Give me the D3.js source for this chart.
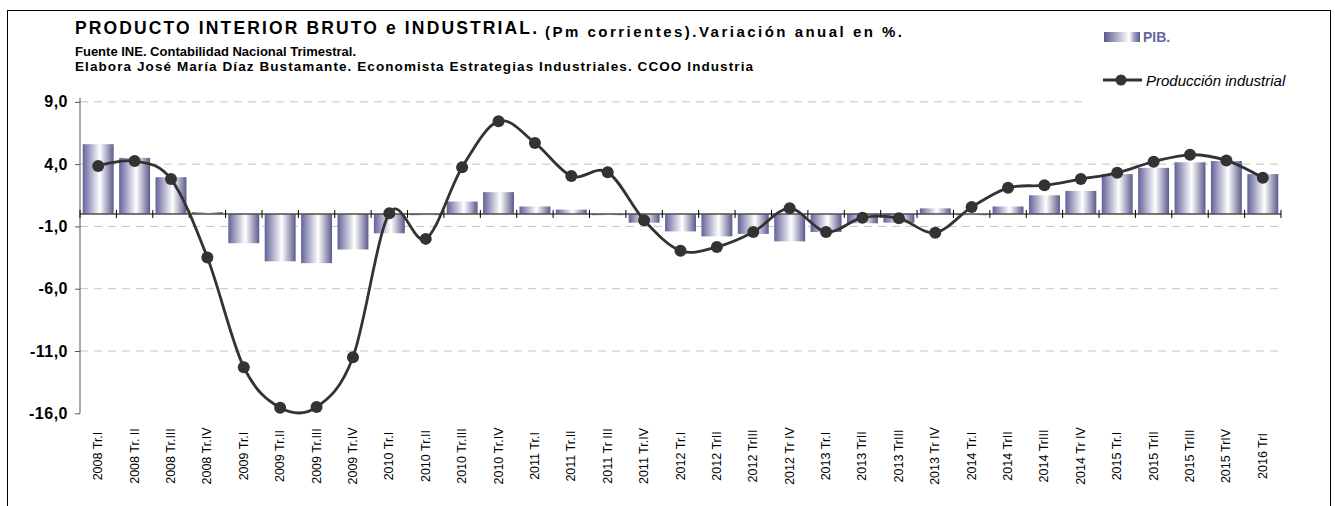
<!DOCTYPE html>
<html>
<head>
    <meta charset="utf-8">
    <title>PIB e Industria</title>
    <script src="https://d3js.org/d3.v7.min.js"></script>
    <style>
        body { margin: 0; background: #fff; }
        text { font-family: Arial, "Liberation Sans", sans-serif; }
    </style>
</head>
<body>
    <svg id="chart"></svg>

    <script>
        var categories = ["2008 Tr.I", "2008 Tr. II", "2008 Tr.III", "2008 Tr.IV",
            "2009 Tr.I", "2009 Tr.II", "2009 Tr.III", "2009 Tr.IV",
            "2010 Tr.I", "2010 Tr.II", "2010 Tr.III", "2010 Tr.IV",
            "2011 Tr.I", "2011 Tr.II", "2011 Tr III", "2011 Tr.IV",
            "2012 Tr.I", "2012 TrII", "2012 TrIII", "2012 Tr IV",
            "2013 Tr.I", "2013 TrII", "2013 TrIII", "2013 Tr IV",
            "2014 Tr.I", "2014 TrII", "2014 TrIII", "2014 Tr IV",
            "2015 Tr.I", "2015 TrII", "2015 TrIII", "2015 TrIV", "2016 TrI"];

        var pib = [5.6, 4.5, 2.95, 0.15, -2.35, -3.8, -3.95, -2.85,
            -1.55, -0.1, 1.0, 1.75, 0.6, 0.35, -0.1, -0.7,
            -1.4, -1.8, -1.6, -2.2, -1.45, -0.75, -0.7, 0.45,
            -0.1, 0.6, 1.5, 1.85, 3.2, 3.7, 4.15, 4.25, 3.2];

        var industria = [3.85, 4.25, 2.8, -3.5, -12.3, -15.55, -15.5, -11.5,
            0.05, -2.0, 3.75, 7.45, 5.7, 3.05, 3.35, -0.5,
            -2.95, -2.65, -1.45, 0.45, -1.45, -0.3, -0.35, -1.5,
            0.55, 2.1, 2.3, 2.8, 3.3, 4.2, 4.75, 4.3, 2.9];

        var yTicks = [9, 4, -1, -6, -11, -16];

        var width = 1335;
        var height = 506;

        var svg = d3.select("#chart")
            .attr("width", width)
            .attr("height", height);

        // gradiente de las barras
        var defs = svg.append("defs");
        var grad = defs.append("linearGradient")
            .attr("id", "barGrad")
            .attr("x1", "0").attr("x2", "1").attr("y1", "0").attr("y2", "0");
        grad.append("stop").attr("offset", "0").attr("stop-color", "#62629a");
        grad.append("stop").attr("offset", "0.55").attr("stop-color", "#ffffff");
        grad.append("stop").attr("offset", "1").attr("stop-color", "#5a5a8c");

        var gradLeg = defs.append("linearGradient")
            .attr("id", "legGrad")
            .attr("x1", "0").attr("x2", "1").attr("y1", "0").attr("y2", "0");
        gradLeg.append("stop").attr("offset", "0").attr("stop-color", "#5a5a8c");
        gradLeg.append("stop").attr("offset", "0.7").attr("stop-color", "#ffffff");
        gradLeg.append("stop").attr("offset", "0.85").attr("stop-color", "#9a9ac0");
        gradLeg.append("stop").attr("offset", "1").attr("stop-color", "#5a5a8c");

        // marco
        svg.append("rect")
            .attr("x", 7.5).attr("y", 10.5)
            .attr("width", 1323).attr("height", 520)
            .attr("fill", "none")
            .attr("stroke", "#000")
            .attr("stroke-width", 1);

        var x = d3.scaleBand()
            .domain(categories)
            .range([80, 1281])
            .paddingInner(0.15)
            .paddingOuter(0.075);

        var y = d3.scaleLinear()
            .domain([-16, 9.3])
            .range([413.3, 98.1]);

        // rejilla
        svg.append("g")
            .selectAll("line")
            .data(yTicks.filter(function(d) { return d > -16; }))
            .enter()
            .append("line")
            .attr("x1", 80).attr("x2", 1281)
            .attr("y1", function(d) { return y(d); })
            .attr("y2", function(d) { return y(d); })
            .attr("stroke", "#c4c4c4")
            .attr("stroke-width", 1)
            .attr("stroke-dasharray", "8,6");

        // barras PIB
        svg.append("g")
            .selectAll("rect")
            .data(pib)
            .enter()
            .append("rect")
            .attr("x", function(d, i) { return x(categories[i]); })
            .attr("width", x.bandwidth())
            .attr("y", function(d) { return y(Math.max(0, d)); })
            .attr("height", function(d) { return Math.abs(y(d) - y(0)); })
            .attr("fill", "url(#barGrad)");

        // eje Y
        var yAxis = d3.axisLeft(y)
            .tickValues(yTicks)
            .tickSize(5)
            .tickFormat(function(d) { return d.toFixed(1).replace(".", ","); });

        var gy = svg.append("g")
            .attr("transform", "translate(80,0)")
            .call(yAxis);
        gy.select(".domain").attr("stroke", "#555").attr("d", "M0," + y(-16) + "V" + y(9.3));
        gy.selectAll(".tick line").attr("stroke", "#555");
        gy.selectAll(".tick text")
            .attr("x", -12)
            .attr("fill", "#000")
            .style("font-size", "16px")
            .style("font-weight", "bold")
            .style("letter-spacing", "0.5px")
            .style("font-family", "Arial, 'Liberation Sans', sans-serif");

        // eje X en el cero
        var ticksX = categories.map(function(c) { return x(c) - x.step() * x.paddingInner() / 2; });
        ticksX.push(1281);
        var gx = svg.append("g");
        gx.append("line")
            .attr("x1", 80).attr("x2", 1281)
            .attr("y1", y(0)).attr("y2", y(0))
            .attr("stroke", "#4d4d4d")
            .attr("stroke-width", 1.5);
        gx.selectAll("line.tk")
            .data(ticksX)
            .enter()
            .append("line")
            .attr("class", "tk")
            .attr("x1", function(d) { return d; })
            .attr("x2", function(d) { return d; })
            .attr("y1", y(0) - 4)
            .attr("y2", y(0) + 4)
            .attr("stroke", "#000")
            .attr("stroke-width", 1);

        // etiquetas X
        svg.append("g")
            .selectAll("text")
            .data(categories)
            .enter()
            .append("text")
            .attr("transform", function(d) {
                return "translate(" + (x(d) + x.bandwidth() / 2 + 4) + ",456) rotate(-90)";
            })
            .attr("text-anchor", "middle")
            .style("font-size", "12.5px")
            .text(function(d) { return d; });

        // linea produccion industrial
        var line = d3.line()
            .x(function(d, i) { return x(categories[i]) + x.bandwidth() / 2; })
            .y(function(d) { return y(d); })
            .curve(d3.curveCardinal.tension(0));

        svg.append("path")
            .datum(industria)
            .attr("d", line)
            .attr("fill", "none")
            .attr("stroke", "#333")
            .attr("stroke-width", 2.8);

        svg.append("g")
            .selectAll("circle")
            .data(industria)
            .enter()
            .append("circle")
            .attr("cx", function(d, i) { return x(categories[i]) + x.bandwidth() / 2; })
            .attr("cy", function(d) { return y(d); })
            .attr("r", 6)
            .attr("fill", "#333");

        // leyenda
        var leg = svg.append("g");
        leg.append("rect")
            .attr("x", 1085).attr("y", 12)
            .attr("width", 244).attr("height", 93)
            .attr("fill", "#fff");
        leg.append("rect")
            .attr("x", 1104).attr("y", 32)
            .attr("width", 36).attr("height", 10)
            .attr("fill", "url(#legGrad)");
        leg.append("text")
            .attr("x", 1143).attr("y", 42)
            .attr("fill", "#66669e")
            .style("font-size", "14px")
            .style("font-weight", "bold")
            .text("PIB.");
        leg.append("line")
            .attr("x1", 1103).attr("x2", 1142)
            .attr("y1", 80).attr("y2", 80)
            .attr("stroke", "#333")
            .attr("stroke-width", 2.8);
        leg.append("circle")
            .attr("cx", 1121).attr("cy", 80)
            .attr("r", 5.5)
            .attr("fill", "#333");
        leg.append("text")
            .attr("x", 1146).attr("y", 86)
            .style("font-size", "15px")
            .style("font-style", "italic")
            .text("Producción industrial");

        // titulos
        svg.append("text")
            .attr("x", 75).attr("y", 33.5)
            .attr("textLength", 462)
            .attr("lengthAdjust", "spacing")
            .style("font-size", "17.5px")
            .style("font-weight", "bold")
            .text("PRODUCTO INTERIOR BRUTO e INDUSTRIAL.");
        svg.append("text")
            .attr("x", 545).attr("y", 36.5)
            .attr("textLength", 357)
            .attr("lengthAdjust", "spacing")
            .style("font-size", "15px")
            .style("font-weight", "bold")
            .text("(Pm corrientes).Variación anual en %.");
        svg.append("text")
            .attr("x", 75).attr("y", 55.5)
            .style("font-size", "13px")
            .style("font-weight", "bold")
            .text("Fuente INE. Contabilidad Nacional Trimestral.");
        svg.append("text")
            .attr("x", 75).attr("y", 70.5)
            .attr("textLength", 678)
            .attr("lengthAdjust", "spacing")
            .style("font-size", "13.5px")
            .style("font-weight", "bold")
            .text("Elabora José María Díaz Bustamante. Economista Estrategias Industriales. CCOO Industria");
    </script>
</body>
</html>
